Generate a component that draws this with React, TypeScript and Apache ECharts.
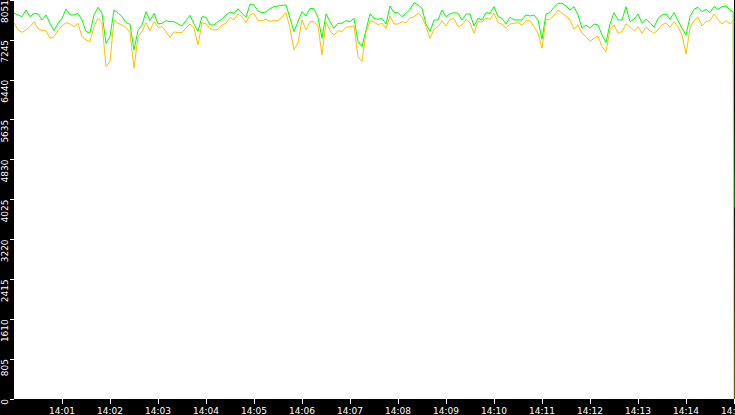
import React, { useEffect, useRef } from "react";
import * as echarts from "echarts";

// Sampling: one reading every 5 seconds from 14:00:00, plus the last two readings (14:14:59, 14:15:00)
const START_LABEL_HOUR = "14";
const SAMPLE_STEP_S = 5;
const TAIL_SECONDS = [899, 900];

const greenValues = [
  7782, 7749, 7715, 7849, 7715, 7782, 7769, 7648, 7749, 7581,
  7433, 7581, 7681, 7870, 7749, 7749, 7782, 7648, 7413, 7393,
  7749, 7903, 7782, 7177, 7312, 7849, 7796, 7715, 7594, 7560,
  7043, 7433, 7547, 7816, 7634, 7782, 7567, 7581, 7634, 7614,
  7614, 7567, 7527, 7634, 7742, 7567, 7413, 7715, 7702, 7547,
  7547, 7614, 7661, 7749, 7809, 7782, 7876, 7782, 7702, 7970,
  7950, 7829, 7796, 7809, 7876, 7917, 7930, 7943, 7950, 7681,
  7413, 7614, 7816, 7728, 7883, 7876, 7702, 7278, 7769, 7614,
  7480, 7581, 7581, 7634, 7614, 7681, 7211, 7110, 7446, 7769,
  7681, 7661, 7681, 7567, 7930, 7796, 7796, 7715, 7782, 7863,
  7997, 7950, 7883, 7567, 7413, 7648, 7648, 7849, 7715, 7769,
  7796, 7782, 7648, 7769, 7769, 7527, 7681, 7648, 7796, 7782,
  7917, 7715, 7681, 7567, 7702, 7648, 7648, 7648, 7749, 7728,
  7749, 7648, 7258, 7769, 7796, 7903, 7984, 7984, 7930, 7849,
  7917, 7749, 7480, 7547, 7480, 7567, 7547, 7345, 7191, 7567,
  7796, 7648, 7648, 7917, 7614, 7661, 7769, 7581, 7661, 7594,
  7500, 7681, 7749, 7769, 7661, 7796, 7634, 7480, 7345, 7715,
  7863, 7903, 7816, 7863, 7796, 7917, 7863, 7917, 7930, 7849,
  7816, 3860,
];

const orangeValues = [
  7594, 7446, 7399, 7446, 7513, 7614, 7480, 7433, 7433, 7278,
  7312, 7433, 7527, 7594, 7567, 7513, 7581, 7312, 7245, 7211,
  7513, 7681, 7594, 6707, 6808, 7648, 7581, 7547, 7500, 7393,
  6673, 7312, 7413, 7594, 7433, 7614, 7500, 7513, 7413, 7298,
  7406, 7393, 7393, 7487, 7567, 7480, 7144, 7594, 7567, 7480,
  7446, 7460, 7547, 7581, 7702, 7648, 7769, 7715, 7594, 7749,
  7782, 7634, 7634, 7661, 7621, 7634, 7634, 7702, 7796, 7480,
  7043, 7191, 7648, 7446, 7614, 7614, 7527, 6942, 7614, 7433,
  7345, 7433, 7413, 7500, 7513, 7527, 6909, 6808, 7393, 7634,
  7607, 7554, 7581, 7480, 7728, 7567, 7567, 7614, 7594, 7688,
  7715, 7782, 7715, 7513, 7278, 7460, 7513, 7634, 7527, 7661,
  7675, 7513, 7547, 7661, 7594, 7379, 7614, 7607, 7681, 7661,
  7782, 7594, 7567, 7480, 7567, 7581, 7594, 7547, 7634, 7634,
  7513, 7379, 7077, 7661, 7661, 7749, 7849, 7782, 7728, 7648,
  7460, 7547, 7379, 7312, 7211, 7278, 7325, 7110, 7009, 7460,
  7547, 7379, 7413, 7567, 7513, 7433, 7513, 7379, 7500, 7433,
  7379, 7446, 7547, 7594, 7500, 7614, 7513, 7345, 6962, 7480,
  7634, 7702, 7527, 7614, 7634, 7769, 7661, 7567, 7634, 7567,
  7634, 0,
];

const Y_MAX = 8051;
const Y_SPLITS = 10;
const X_TICK_SECONDS = [60, 120, 180, 240, 300, 360, 420, 480, 540, 600, 660, 720, 780, 840, 900];

function secondsAxis(count: number): number[] {
  const regular = count - TAIL_SECONDS.length;
  const out: number[] = [];
  for (let i = 0; i < regular; i++) out.push(i * SAMPLE_STEP_S);
  return out.concat(TAIL_SECONDS);
}

export default function App() {
  const ref = useRef<HTMLDivElement>(null);
  useEffect(() => {
    if (!ref.current) return;
    const chart = echarts.init(ref.current, undefined, { renderer: "svg" });
    const secs = secondsAxis(greenValues.length);
    const font = "DejaVu Sans";
    chart.setOption({
      animation: false,
      backgroundColor: "#000000",
      grid: {
        left: 14,
        right: 1,
        top: 0,
        bottom: 16,
        show: true,
        backgroundColor: "#ffffff",
        borderWidth: 0,
        containLabel: false,
        outerBoundsMode: "none",
      },
      xAxis: {
        type: "value",
        min: 0,
        max: 900,
        interval: 60,
        splitLine: { show: false },
        axisLine: { show: false },
        axisTick: {
          show: true,
          length: 5,
          lineStyle: { color: "#ffffff", width: 1 },
          customValues: X_TICK_SECONDS,
        },
        axisLabel: {
          color: "#ffffff",
          fontFamily: font,
          fontSize: 9,
          margin: 7,
          hideOverlap: false,
          customValues: X_TICK_SECONDS,
          formatter: (v: number) =>
            START_LABEL_HOUR + ":" + String(Math.round(v / 60)).padStart(2, "0"),
        },
      },
      yAxis: {
        type: "value",
        min: 0,
        max: Y_MAX,
        interval: Y_MAX / Y_SPLITS,
        splitLine: { show: false },
        axisLine: { show: false },
        axisTick: { show: true, length: 4, lineStyle: { color: "#ffffff", width: 1 } },
        axisLabel: {
          color: "#ffffff",
          fontFamily: font,
          fontSize: 9,
          rotate: 90,
          align: "right",
          verticalAlign: "middle",
          margin: 9,
          formatter: (v: number) => String(Math.floor(v + 1e-6)),
        },
      },
      series: [
        {
          type: "line",
          showSymbol: false,
          data: secs.map((s, i) => [s, greenValues[i]]),
          lineStyle: { color: "#00ff00", width: 1 },
          itemStyle: { color: "#00ff00" },
        },
        {
          type: "line",
          showSymbol: false,
          data: secs.map((s, i) => [s, orangeValues[i]]),
          lineStyle: { color: "#ffc000", width: 1 },
          itemStyle: { color: "#ffc000" },
        },
      ],
    });
    return () => chart.dispose();
  }, []);
  return (
    <div
      ref={ref}
      style={{ position: "fixed", left: 0, top: 0, width: 735, height: 415 }}
    />
  );
}
